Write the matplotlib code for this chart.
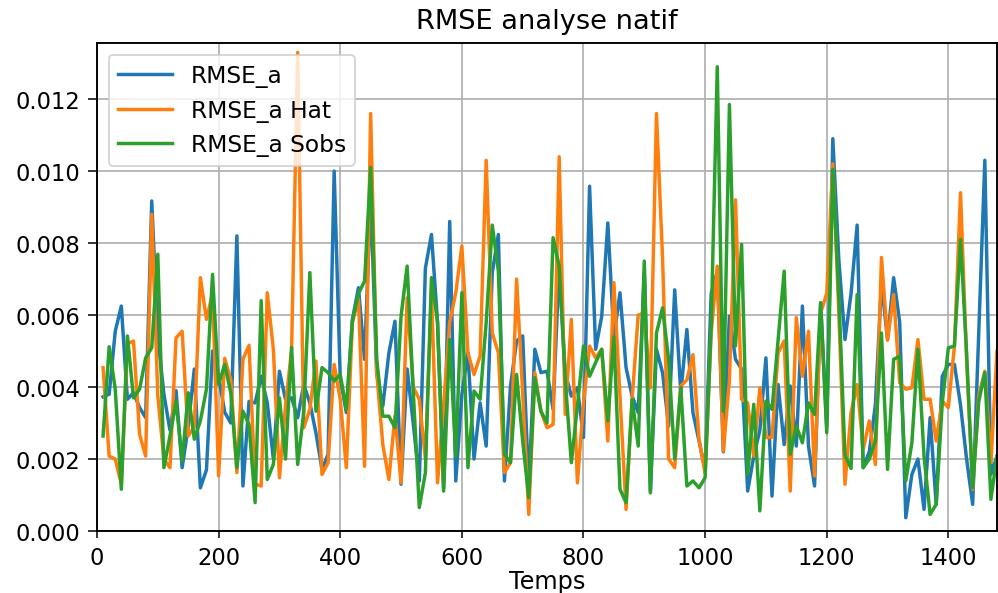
import numpy as np
import matplotlib
matplotlib.use("Agg")
import matplotlib.pyplot as plt

temps = np.arange(10, 1490, 10)

rmse_a = [3.73, 3.8, 5.55, 6.25, 3.66, 3.84, 3.43, 3.15, 9.17, 5.4,
          3.8, 2.8, 3.9, 1.76, 2.9, 4.5, 1.2, 1.7, 5.0, 4.3,
          3.3, 3.0, 8.2, 1.25, 3.6, 3.56, 4.3, 3.56, 2.0, 4.44,
          3.66, 3.7, 3.15, 4.07, 3.56, 2.73, 1.71, 2.13, 10.0, 4.26,
          3.29, 5.88, 6.76, 4.77, 9.3, 4.35, 3.47, 4.95, 5.83, 1.3,
          4.5, 3.0, 1.39, 7.3, 8.24, 5.8, 1.2, 8.6, 1.39, 3.8,
          4.95, 2.0, 3.56, 2.36, 7.18, 8.24, 1.39, 4.03, 5.28, 5.42,
          1.2, 5.05, 4.4, 4.44, 3.38, 7.36, 4.4, 3.75, 3.98, 2.6,
          9.58, 5.05, 5.97, 8.56, 5.4, 6.62, 4.54, 3.75, 3.29, 7.18,
          1.1, 5.05, 4.4, 2.92, 6.7, 3.84, 5.6, 3.29, 2.5, 1.71,
          6.6, 7.2, 2.2, 5.97, 4.77, 4.5, 1.11, 2.08, 2.8, 4.81,
          0.97, 4.07, 2.4, 4.03, 2.36, 6.25, 2.36, 1.25, 6.34, 2.9,
          10.9, 7.5, 5.32, 6.6, 8.5, 1.76, 2.2, 3.5, 6.9, 5.32,
          7.04, 5.8, 0.37, 1.57, 2.0, 0.6, 3.15, 0.74, 4.3, 4.63,
          4.63, 3.5, 2.0, 0.74, 5.5, 10.3, 1.57, 2.08]

rmse_a_hat = [4.54, 2.08, 2.0, 1.3, 5.2, 5.28, 2.69, 2.08, 8.8, 3.75,
              2.0, 1.76, 5.37, 5.55, 2.64, 2.9, 7.04, 5.88, 6.6, 1.53,
              4.8, 4.2, 1.62, 4.77, 5.16, 1.3, 1.25, 6.62, 5.05, 1.48,
              3.47, 5.05, 13.3, 2.87, 3.38, 4.72, 1.57, 1.9, 4.63, 3.66,
              1.76, 5.8, 6.44, 1.8, 11.6, 4.4, 2.4, 1.43, 3.2, 1.34,
              6.48, 4.0, 3.66, 2.0, 6.7, 1.34, 3.5, 5.8, 6.62, 7.92,
              4.95, 4.35, 4.86, 10.3, 5.5, 4.95, 1.62, 1.9, 7.0, 3.84,
              0.46, 4.4, 3.33, 2.87, 2.96, 10.4, 3.24, 5.88, 1.34, 3.56,
              5.14, 4.81, 5.05, 2.5, 6.9, 3.75, 0.6, 3.66, 6.0, 6.06,
              3.98, 11.6, 7.6, 2.0, 1.76, 4.03, 4.2, 4.9, 2.55, 1.6,
              5.5, 7.36, 2.22, 4.2, 9.2, 3.66, 3.56, 2.08, 3.98, 2.6,
              2.6, 4.95, 5.28, 1.11, 5.93, 4.3, 5.55, 1.53, 6.06, 6.6,
              10.2, 6.0, 1.3, 3.3, 4.07, 2.27, 3.06, 1.85, 7.6, 5.3,
              6.57, 4.12, 3.94, 3.98, 5.32, 3.66, 3.66, 2.5, 3.61, 3.43,
              5.14, 9.4, 4.77, 1.16, 3.75, 4.44, 1.9, 5.0]

rmse_a_sobs = [2.64, 5.12, 3.94, 1.16, 5.42, 3.7, 3.94, 4.81, 5.09, 7.69,
               1.76, 2.64, 3.61, 1.94, 3.84, 2.55, 3.06, 3.94, 7.13, 4.07,
               4.63, 3.84, 1.76, 3.33, 2.96, 0.79, 6.4, 1.43, 1.85, 3.7,
               2.0, 5.1, 1.85, 3.3, 7.18, 3.33, 4.54, 4.4, 4.17, 4.35,
               3.38, 5.83, 6.6, 6.94, 10.1, 4.77, 3.19, 3.19, 2.87, 5.97,
               7.36, 3.9, 0.65, 1.62, 7.04, 5.8, 1.11, 5.32, 2.08, 6.62,
               1.76, 3.89, 3.66, 5.8, 8.5, 7.22, 2.13, 1.9, 4.35, 2.5,
               0.93, 4.26, 3.33, 3.0, 8.15, 7.36, 4.2, 1.9, 3.47, 5.14,
               4.3, 4.68, 5.05, 3.06, 5.4, 1.16, 0.79, 3.66, 2.36, 7.5,
               1.06, 5.5, 6.2, 4.77, 2.0, 3.98, 1.25, 1.39, 1.2, 1.48,
               5.7, 12.9, 3.33, 11.85, 5.14, 7.96, 1.57, 3.52, 0.56, 3.61,
               3.38, 5.3, 7.22, 2.13, 2.92, 2.45, 3.56, 3.24, 6.34, 2.73,
               10.05, 6.5, 2.1, 1.74, 6.57, 1.76, 2.0, 2.5, 5.5, 1.71,
               4.77, 4.86, 1.39, 2.45, 5.05, 2.08, 0.46, 0.74, 3.56, 5.09,
               5.14, 8.1, 4.95, 1.2, 3.6, 4.4, 0.88, 2.08]

series_labels = ["RMSE_a", "RMSE_a Hat", "RMSE_a Sobs"]
y_ticks = [0.000, 0.002, 0.004, 0.006, 0.008, 0.010, 0.012]
x_ticks = [0, 200, 400, 600, 800, 1000, 1200, 1400]

scale = 1e-3
dpi = 138
fig = plt.figure(figsize=(998 / dpi, 594 / dpi), dpi=dpi)
ax = fig.add_axes([97 / 998, 1 - 532 / 594, 900 / 998, (532 - 44) / 594])

for vals, lab in zip([rmse_a, rmse_a_hat, rmse_a_sobs], series_labels):
    ax.plot(temps, np.array(vals) * scale, label=lab, linewidth=1.8)

ax.set_xlim(0, 1480)
ax.set_ylim(0, 0.01356)
ax.set_xticks(x_ticks)
ax.set_yticks(y_ticks)
ax.set_yticklabels([f"{v:.3f}" for v in y_ticks])
ax.tick_params(axis="both", labelsize=11.8)
ax.tick_params(axis="y", length=4.7, pad=4.2)
ax.tick_params(axis="x", length=3.6, pad=4.0)
for s in ax.spines.values():
    s.set_linewidth(1.0)
ax.grid(True, linewidth=0.9)
ax.set_title("RMSE analyse natif", fontsize=14.2, pad=8)
ax.set_xlabel("Temps", fontsize=12.5, labelpad=0)
ax.legend(loc="upper left", fontsize=12.2, handlelength=2.3,
          borderaxespad=0.5)

fig.savefig("out.png", dpi=dpi)
